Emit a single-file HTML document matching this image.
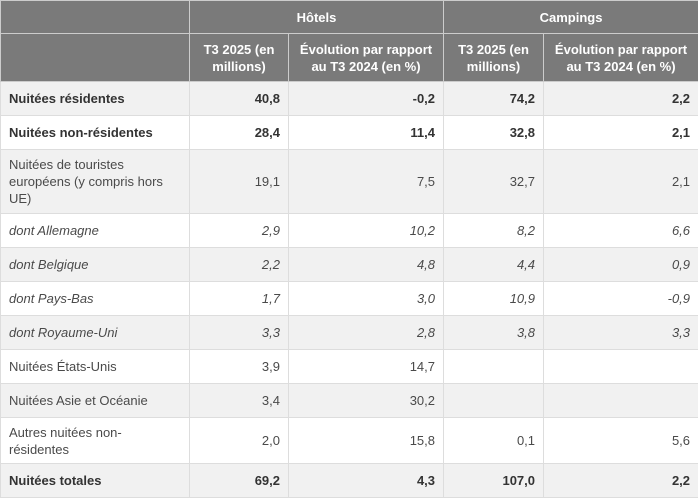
<!DOCTYPE html>
<html><head><meta charset="utf-8"><style>
body{margin:0;background:#fff;width:698px;height:503px;overflow:hidden}
table{border-collapse:collapse;table-layout:fixed;font-family:"Liberation Sans",sans-serif;font-size:13px;color:#4a4a4a;width:698px}
td,th{border:1px solid #ddd;padding:0 8px;line-height:17px}
th{background:#7a7a7a;color:#fff;font-weight:bold;text-align:center;border-color:#ccc}
td{text-align:right}
td:first-child{text-align:left}
tr.g td{background:#f1f1f1}
tr.b td{font-weight:bold;color:#333}
tr.i td{font-style:italic}
</style></head><body>
<table>
<colgroup><col style="width:189px"><col style="width:99px"><col style="width:155px"><col style="width:100px"><col style="width:155px"></colgroup>
<tr style="height:33px"><th></th><th colspan="2">Hôtels</th><th colspan="2">Campings</th></tr>
<tr style="height:48px"><th></th><th>T3 2025 (en millions)</th><th>Évolution par rapport au T3 2024 (en %)</th><th>T3 2025 (en millions)</th><th>Évolution par rapport au T3 2024 (en %)</th></tr>
<tr class="g b" style="height:34px"><td>Nuitées résidentes</td><td>40,8</td><td>-0,2</td><td>74,2</td><td>2,2</td></tr>
<tr class="b" style="height:34px"><td>Nuitées non-résidentes</td><td>28,4</td><td>11,4</td><td>32,8</td><td>2,1</td></tr>
<tr class="g" style="height:64px"><td>Nuitées de touristes européens (y compris hors UE)</td><td>19,1</td><td>7,5</td><td>32,7</td><td>2,1</td></tr>
<tr class="i" style="height:34px"><td>dont Allemagne</td><td>2,9</td><td>10,2</td><td>8,2</td><td>6,6</td></tr>
<tr class="g i" style="height:34px"><td>dont Belgique</td><td>2,2</td><td>4,8</td><td>4,4</td><td>0,9</td></tr>
<tr class="i" style="height:34px"><td>dont Pays-Bas</td><td>1,7</td><td>3,0</td><td>10,9</td><td>-0,9</td></tr>
<tr class="g i" style="height:34px"><td>dont Royaume-Uni</td><td>3,3</td><td>2,8</td><td>3,8</td><td>3,3</td></tr>
<tr style="height:34px"><td>Nuitées États-Unis</td><td>3,9</td><td>14,7</td><td></td><td></td></tr>
<tr class="g" style="height:34px"><td>Nuitées Asie et Océanie</td><td>3,4</td><td>30,2</td><td></td><td></td></tr>
<tr style="height:46px"><td>Autres nuitées non-résidentes</td><td>2,0</td><td>15,8</td><td>0,1</td><td>5,6</td></tr>
<tr class="g b" style="height:34px"><td>Nuitées totales</td><td>69,2</td><td>4,3</td><td>107,0</td><td>2,2</td></tr>
</table>
</body></html>
